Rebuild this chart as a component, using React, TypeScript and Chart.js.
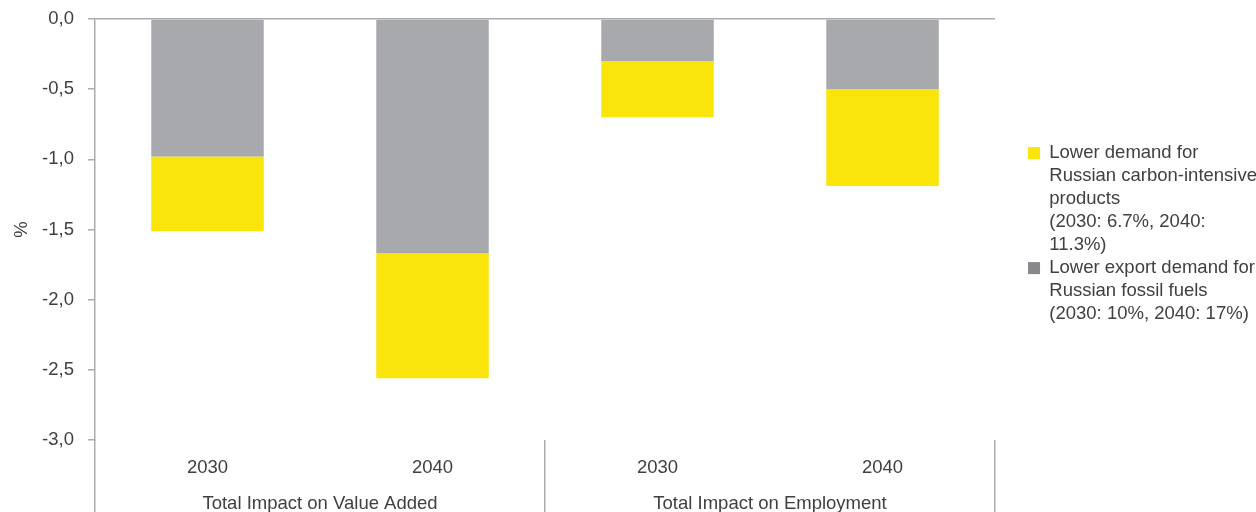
import React, { useEffect, useRef } from 'react';
import { Chart, registerables } from 'chart.js';

Chart.register(...registerables);

// ---- data ----
const categories = ['2030', '2040', '2030', '2040'];
const groups = ['Total Impact on Value Added', 'Total Impact on Employment'];
// stacked from 0 downward: fossil fuels first (grey), then carbon-intensive products (yellow)
const fossilFuels = [-0.98, -1.67, -0.3, -0.5];
const carbonProducts = [-0.53, -0.89, -0.4, -0.69];
const yMin = -3;
const yMax = 0;
const yStep = 0.5;
const legendCarbon = ['Lower demand for', 'Russian carbon-intensive', 'products', '(2030: 6.7%, 2040:', '11.3%)'];
const legendFossil = ['Lower export demand for', 'Russian fossil fuels', '(2030: 10%, 2040: 17%)'];
const fossilLabel = 'Lower export demand for Russian fossil fuels (2030: 10%, 2040: 17%)';
const carbonLabel = 'Lower demand for Russian carbon-intensive products (2030: 6.7%, 2040: 11.3%)';

// ---- styles ----
const YELLOW = '#FAE50A';
const GREY = '#A8A9AD';
const GREY_LEGEND = '#88888C';
const AXIS = '#ABABAF';
const TEXT = '#404040';
const FONT = "'Liberation Sans', Arial, sans-serif";
const FS = 18.5;

export default function App() {
  const ref = useRef<HTMLCanvasElement | null>(null);

  useEffect(() => {
    if (!ref.current) return;
    Chart.defaults.font.family = FONT;
    Chart.defaults.font.size = FS;
    Chart.defaults.color = TEXT;

    const chart = new Chart(ref.current, {
      type: 'bar',
      data: {
        labels: categories,
        datasets: [
          {
            label: fossilLabel,
            data: fossilFuels,
            backgroundColor: GREY,
            borderWidth: 0,
            barPercentage: 0.5,
            categoryPercentage: 1,
            xAxisID: 'x',
            yAxisID: 'y',
          },
          {
            label: carbonLabel,
            data: carbonProducts,
            backgroundColor: YELLOW,
            borderWidth: 0,
            barPercentage: 0.5,
            categoryPercentage: 1,
            xAxisID: 'x',
            yAxisID: 'y',
          },
        ],
      },
      options: {
        responsive: false,
        animation: false,
        layout: { padding: { top: 19, left: 0, right: 0, bottom: 0 } },
        plugins: {
          tooltip: { enabled: false },
          legend: {
            position: 'right',
            align: 'center',
            fullSize: false,
            maxWidth: 400,
            title: { display: true, text: '', padding: 5.75, font: { size: 1 } },
            labels: {
              boxWidth: 12,
              boxHeight: 12,
              padding: 0,
              color: TEXT,
              font: { size: FS, lineHeight: 1.243 },
              generateLabels: () => [
                {
                  text: legendCarbon as any,
                  fillStyle: YELLOW,
                  strokeStyle: YELLOW,
                  lineWidth: 0,
                  hidden: false,
                  datasetIndex: 1,
                  fontColor: TEXT,
                },
                {
                  text: legendFossil as any,
                  fillStyle: GREY_LEGEND,
                  strokeStyle: GREY_LEGEND,
                  lineWidth: 0,
                  hidden: false,
                  datasetIndex: 0,
                  fontColor: TEXT,
                },
              ],
            },
          },
        },
        scales: {
          x: {
            type: 'category',
            position: 'bottom',
            stacked: true,
            offset: true,
            grid: {
              offset: true,
              drawOnChartArea: false,
              drawTicks: true,
              tickLength: 72,
              lineWidth: 1.5,
              color: (ctx: any) =>
                ctx.index === undefined || ctx.index % 2 === 0 ? AXIS : 'rgba(0,0,0,0)',
            },
            border: { display: false },
            ticks: { padding: -55, color: TEXT, font: { size: FS }, maxRotation: 0, autoSkip: false },
            afterFit: (s: any) => {
              s.height = 44;
            },
          },
          x2: {
            type: 'category',
            position: 'bottom',
            labels: groups,
            offset: true,
            weight: 1,
            grid: { display: false },
            border: { display: false },
            ticks: { padding: 1, color: TEXT, font: { size: FS }, maxRotation: 0, autoSkip: false },
            afterFit: (s: any) => {
              s.height = 28;
            },
          },
          y: {
            type: 'linear',
            position: 'left',
            stacked: true,
            min: yMin,
            max: yMax,
            ticks: {
              stepSize: yStep,
              padding: 14,
              autoSkip: false,
              color: TEXT,
              font: { size: FS, lineHeight: 0.5 },
              callback: (v: any) => Number(v).toFixed(1).replace('.', ','),
            },
            grid: {
              drawOnChartArea: true,
              color: (ctx: any) => (ctx.tick && ctx.tick.value === 0 ? AXIS : 'rgba(0,0,0,0)'),
              tickColor: AXIS,
              tickLength: 7,
              lineWidth: 1.5,
            },
            border: { display: true, color: AXIS, width: 1.5 },
            title: { display: true, text: '%', color: TEXT, font: { size: FS }, padding: { top: 11, bottom: 0 } },
            afterFit: (s: any) => {
              s.width = 95;
            },
          },
          y2: {
            type: 'linear',
            position: 'right',
            display: true,
            grid: { display: false },
            border: { display: false },
            ticks: { display: false },
            afterFit: (s: any) => {
              s.width = 33;
            },
          },
        },
      } as any,
    });
    return () => chart.destroy();
  }, []);

  return (
    <div style={{ position: 'absolute', left: 0, top: 0, width: 1256, height: 512, overflow: 'hidden', background: '#fff' }}>
      <canvas ref={ref} width={1267} height={512} style={{ display: 'block' }} />
    </div>
  );
}
